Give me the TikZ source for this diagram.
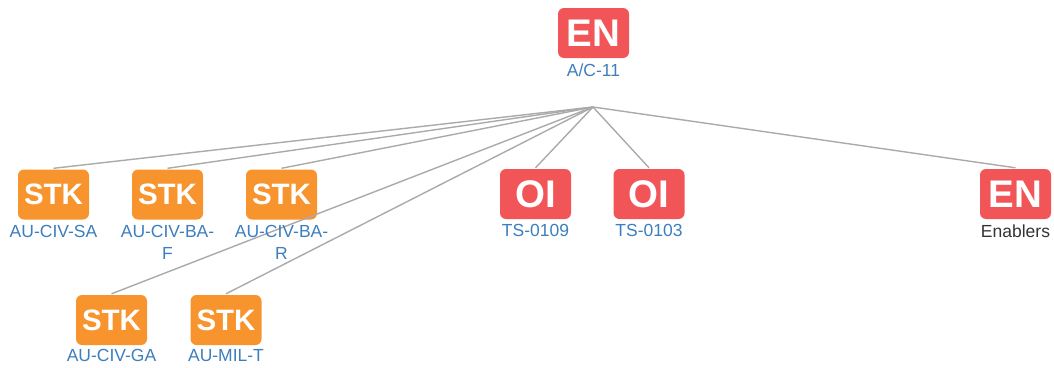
\documentclass[tikz,border=0pt]{standalone}
\usepackage{fontspec}
\setmainfont{Liberation Sans}
\definecolor{enred}{HTML}{F25558}
\definecolor{stkorange}{HTML}{F7942E}
\definecolor{lblblue}{HTML}{3C7EBE}
\definecolor{lbldark}{HTML}{333333}
\definecolor{edgegrey}{HTML}{AAAAAA}
\begin{document}
\begin{tikzpicture}[x=1pt,y=-1pt,
  box/.style={rectangle, rounded corners=6pt, minimum width=71pt, minimum height=50pt, inner sep=0pt, text=white, font=\bfseries},
  redbox/.style={box, fill=enred, font=\fontsize{38.5}{40}\selectfont\bfseries},
  orbox/.style={box, fill=stkorange, font=\fontsize{29.5}{32}\selectfont\bfseries},
  lbl/.style={anchor=north, inner sep=0pt, align=center, text=lblblue, font=\fontsize{17.5}{22}\selectfont},
  lbldk/.style={lbl, text=lbldark},
  edge/.style={draw=edgegrey, line width=1.4pt}]
\useasboundingbox (0,0) rectangle (1054,367);
\coordinate (hub) at (593,107);
% boxes
\node[redbox] (en0) at (593.5,33) {EN};
\node[orbox] (s1) at (53.5,194.5) {STK};
\node[orbox] (s2) at (167.5,194.5) {STK};
\node[orbox] (s3) at (281.5,194.5) {STK};
\node[redbox] (o1) at (535.5,194) {OI};
\node[redbox] (o2) at (649,194) {OI};
\node[redbox] (en1) at (1015.5,194) {EN};
\node[orbox] (s4) at (111.5,320) {STK};
\node[orbox] (s5) at (226,320) {STK};
% edges
\foreach \n in {s1,s2,s3,o1,o2,en1,s4,s5}{
  \draw[edge] (hub) -- ([yshift=1pt]\n.north);
}
% labels
\node[lbl] (l0) at ([yshift=-5pt]en0.south) {A/C-11};
\node[lbl] (l1) at ([yshift=-5pt]s1.south) {AU-CIV-SA};
\node[lbl] (l2) at ([yshift=-5pt]s2.south) {AU-CIV-BA-\\F};
\node[lbl] (l3) at ([yshift=-5pt]s3.south) {AU-CIV-BA-\\R};
\node[lbl] (l4) at ([yshift=-5pt]o1.south) {TS-0109};
\node[lbl] (l5) at ([yshift=-5pt]o2.south) {TS-0103};
\node[lbldk] (l6) at ([yshift=-5pt]en1.south) {Enablers};
\node[lbl] (l7) at ([yshift=-4pt]s4.south) {AU-CIV-GA};
\node[lbl] (l8) at ([yshift=-4pt]s5.south) {AU-MIL-T};
\end{tikzpicture}
\end{document}
